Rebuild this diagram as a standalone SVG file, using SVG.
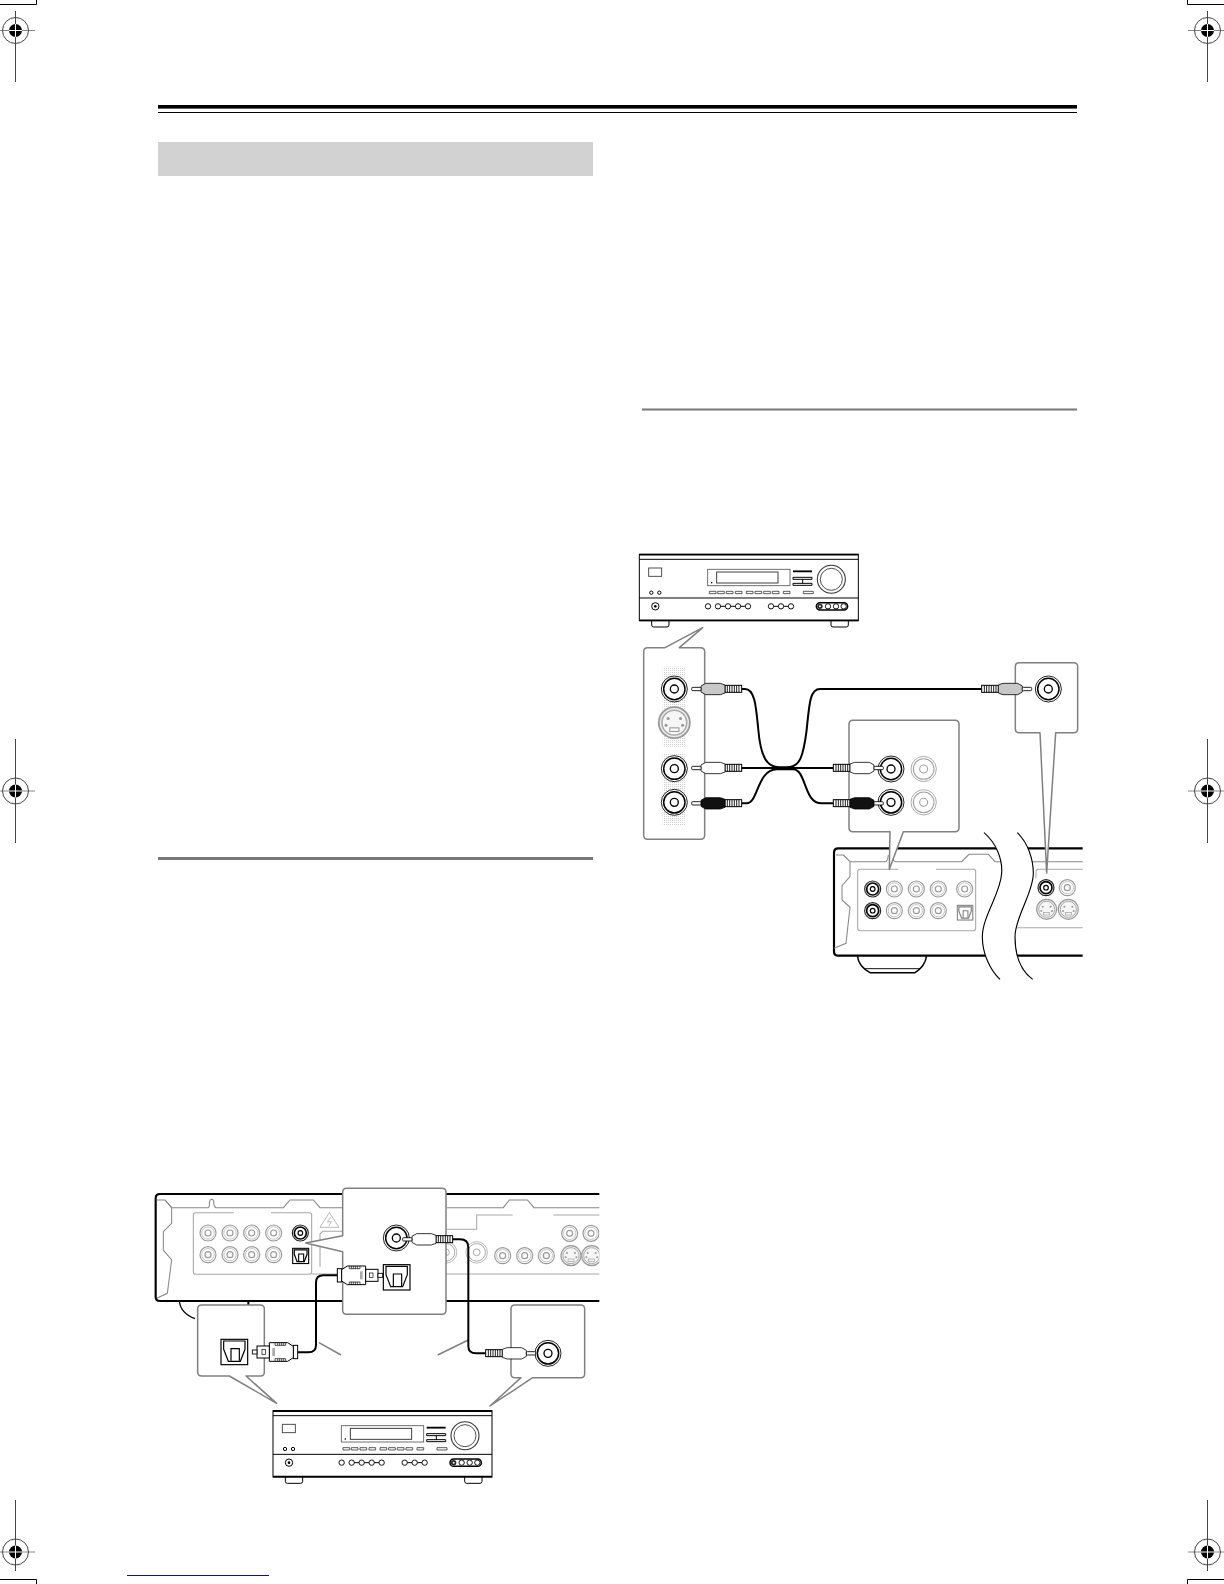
<svg xmlns="http://www.w3.org/2000/svg" width="1224" height="1584" viewBox="0 0 1224 1584">
<style>
.k{fill:none;stroke:#000;stroke-width:6.500;stroke-linejoin:round;stroke-linecap:round}
.c{fill:none;stroke:#000;stroke-width:6}
.g{fill:none;stroke:#888;stroke-width:3.200}
.lg{fill:none;stroke:#a8a8a8;stroke-width:3.200}
.call{fill:#fff;stroke:#808080;stroke-width:4.500;stroke-linejoin:round}
.lead{fill:none;stroke:#808080;stroke-width:4.500}
.rl{fill:none;stroke:#000;stroke-width:3}
.rt{fill:none;stroke:#000;stroke-width:5.500}
.ch{stroke:#444;stroke-width:1}
.chl{stroke:#888;stroke-width:1}
</style>
<defs>
<g id="reg">
<circle r="13" fill="none" stroke="#444" stroke-width="1"/>
<circle r="6.500" fill="#000"/>
<path d="M-6.500 0H6.500M0 -6.500V6.500" stroke="#fff" stroke-width="1"/>
</g>
<g id="jg">
<circle r="24" fill="#fff" stroke="#999" stroke-width="3.500"/>
<circle r="18.500" fill="none" stroke="#bbb" stroke-width="2.500"/>
<circle r="9" fill="none" stroke="#999" stroke-width="3.500"/>
</g>
<g id="jk">
<circle r="24" fill="#fff" stroke="#222" stroke-width="3.500"/>
<circle r="18" fill="none" stroke="#000" stroke-width="5"/>
<circle r="7" fill="none" stroke="#000" stroke-width="3.500"/>
</g>
<g id="jb">
<circle r="39" fill="#fff" stroke="#000" stroke-width="2.600"/>
<circle r="32" fill="none" stroke="#000" stroke-width="4.500"/>
<circle r="12" fill="#fff" stroke="#000" stroke-width="4"/>
</g>
<g id="jl">
<circle r="38" fill="#fff" stroke="#a0a0a0" stroke-width="2.600"/>
<circle r="31" fill="none" stroke="#a0a0a0" stroke-width="3.200"/>
<circle r="12" fill="none" stroke="#a0a0a0" stroke-width="3.200"/>
</g>
<g id="sv">
<circle r="30" fill="#eee" stroke="#999" stroke-width="3.500"/>
<circle r="24" fill="#f6f6f6" stroke="#aaa" stroke-width="3"/>
<circle cx="-12" cy="-8" r="3" fill="#999"/><circle cx="12" cy="-8" r="3" fill="#999"/>
<circle cx="-16" cy="5" r="3" fill="#999"/><circle cx="16" cy="5" r="3" fill="#999"/>
<rect x="-9" y="10" width="18" height="7" fill="none" stroke="#999" stroke-width="2"/>
</g>
<g id="opt">
<rect width="80" height="76" fill="#fff" stroke="#000" stroke-width="3.500"/>
<path d="M8 5H72V30L58 66H22L8 30Z" fill="none" stroke="#000" stroke-width="3.500"/>
<path d="M30 64V28H55V64" fill="none" stroke="#000" stroke-width="3.500"/>
</g>
<g id="opts">
<rect width="80" height="76" fill="#fff" stroke="#000" stroke-width="5.500"/>
<path d="M8 8H72V30L58 66H22L8 30Z" fill="none" stroke="#000" stroke-width="6"/>
<path d="M30 64V28H55V64" fill="none" stroke="#000" stroke-width="5.500"/>
</g>
<g id="rib">
<rect x="0" y="-11" width="50" height="21" fill="#fff" stroke="#000" stroke-width="3"/>
<path d="M8 -11V10M15 -11V10M22 -11V10M29 -11V10M36 -11V10M43 -11V10" stroke="#000" stroke-width="2.600"/>
</g>
<g id="plug">
<use href="#rib"/>
<path d="M50 -12L64 -17H108L122 -9V9L108 17H64L50 12Z" stroke="#000" stroke-width="2.400"/>
<rect x="122" y="-5" width="28" height="10" rx="3" fill="#fff" stroke="#000" stroke-width="2.600"/>
</g>
<g id="oplug">
<rect x="0" y="-20" width="13" height="40" fill="#fff" stroke="#000" stroke-width="3"/>
<path d="M13 -17L30 -28H85V28H30L13 17Z" fill="#fff" stroke="#000" stroke-width="3"/>
<path d="M36 -28V-20H68V-28M36 28V20H68V28M42 -28V-20M48 -28V-20M54 -28V-20M60 -28V-20M42 28V20M48 28V20M54 28V20M60 28V20" fill="none" stroke="#000" stroke-width="2"/>
<rect x="68" y="-12" width="8" height="24" fill="#aaa"/>
<rect x="85" y="-18" width="37" height="36" fill="#fff" stroke="#000" stroke-width="3"/>
<rect x="97" y="-7" width="10" height="14" fill="#fff" stroke="#000" stroke-width="2"/>
<rect x="122" y="-6" width="14" height="12" fill="#fff" stroke="#000" stroke-width="2.600"/>
</g>
<g id="recv">
<path d="M37 199V212Q37 218 43 218H83Q89 218 89 212V199M575 199V212Q575 218 581 218H621Q627 218 627 212V199" class="rl"/>
<rect x="0" y="0" width="657" height="199" fill="#fff" stroke="#000" stroke-width="3"/>
<path d="M0 1H657M0 198H657" class="rt"/>
<path d="M0 15H657M0 131H657" class="rl"/>
<rect x="205" y="45" width="247" height="49" fill="none" stroke="#666" stroke-width="2.800"/>
<rect x="232" y="53" width="184" height="33" fill="none" stroke="#333" stroke-width="2.800"/>
<rect x="215" y="83" width="4" height="4"/>
<rect x="28" y="41" width="39" height="25" fill="none" stroke="#444" stroke-width="2.800"/>
<circle cx="36" cy="115" r="5" class="rl"/><circle cx="60" cy="115" r="5" class="rl"/>
<circle cx="576" cy="75" r="42" fill="none" stroke="#333" stroke-width="3.200"/>
<circle cx="576" cy="75" r="33" fill="none" stroke="#333" stroke-width="2.600"/>
<path d="M461 51H518" class="rt"/>
<path d="M461 69H518V75H461ZM461 87H518V93H461ZM490 75V87" class="rl"/>
<path d="M210 111h20v7h-20zM235 111h20v7h-20zM261 111h20v7h-20zM288 111h20v7h-20zM321 111h20v7h-20zM347 111h20v7h-20zM373 111h20v7h-20zM399 111h20v7h-20zM432 111h20v7h-20zM492 111h30v7h-30z" fill="none" stroke="#333" stroke-width="2.400"/>
<path d="M236 156H326M395 156H455" class="rl"/>
<circle cx="48" cy="156" r="11" class="rl"/><circle cx="48" cy="156" r="4"/>
<g fill="#fff" stroke="#000" stroke-width="2.800">
<circle cx="206" cy="156" r="8"/><circle cx="236" cy="156" r="8"/><circle cx="266" cy="156" r="8"/><circle cx="296" cy="156" r="8"/><circle cx="326" cy="156" r="8"/>
<circle cx="395" cy="156" r="8"/><circle cx="425" cy="156" r="8"/><circle cx="455" cy="156" r="8"/>
<rect x="531" y="145" width="94" height="22" rx="11" stroke-width="4.500"/>
<circle cx="566" cy="156" r="8"/><circle cx="590" cy="156" r="8"/><circle cx="613" cy="156" r="8"/>
</g>
<circle cx="542" cy="156" r="8" fill="#222"/><circle cx="542" cy="156" r="3" fill="#fff"/>
</g>
<clipPath id="clipA"><rect x="0" y="0" width="1378" height="500"/></clipPath>
<clipPath id="clipC"><rect x="0" y="0" width="788" height="500"/></clipPath>
<pattern id="dots" width="6" height="6" patternUnits="userSpaceOnUse"><rect width="3" height="3" fill="#d0d0d0"/></pattern>
</defs>

<g id="page-marks">
<path d="M0 4.500H36.500V0M1224 4.500H1187.500V0M0 1579.500H36.500V1584M1224 1579.500H1187.500V1584" fill="none" stroke="#000" stroke-width="1"/>
<g id="reg-tl"><path class="ch" d="M15.500 11V82"/><path class="chl" d="M0 30.500H35"/><use href="#reg" x="15.500" y="30.500"/></g>
<g id="reg-tr"><path class="ch" d="M1207.500 11V82"/><path class="chl" d="M1188 30.500H1224"/><use href="#reg" x="1207.500" y="30.500"/></g>
<g id="reg-ml"><path class="ch" d="M15.500 739V843"/><path class="chl" d="M0 791H35"/><use href="#reg" x="15.500" y="791"/></g>
<g id="reg-mr"><path class="ch" d="M1207.500 739V843"/><path class="chl" d="M1188 791H1224"/><use href="#reg" x="1207.500" y="791"/></g>
<g id="reg-bl"><path class="ch" d="M15.500 1500V1571"/><path class="chl" d="M0 1552H35"/><use href="#reg" x="15.500" y="1552"/></g>
<g id="reg-br"><path class="ch" d="M1207.500 1500V1571"/><path class="chl" d="M1188 1552H1224"/><use href="#reg" x="1207.500" y="1552"/></g>
<rect x="127" y="1575" width="142" height="1" fill="#14147a"/>
</g>

<g id="page-rules">
<rect x="158" y="105" width="919" height="3.600"/>
<rect x="158" y="112" width="919" height="1"/>
<rect x="158" y="142" width="435" height="34" fill="#d2d2d2"/>
<rect x="158" y="857" width="435" height="3" fill="#777"/>
<rect x="642" y="408.500" width="435" height="2" fill="#777"/>
</g>

<g id="digital-diagram" transform="translate(140 1170) scale(.33333)">
<g id="rear-panel-a" clip-path="url(#clipA)">
<path d="M118 393Q122 430 165 446" class="c" style="stroke-width:4"/>
<path d="M325 393V408" class="c"/>
<path d="M1400 72H60Q47 72 47 85V380Q47 393 60 393H1400" class="k"/>
<path d="M50 90H75L95 113V160L70 185V240L95 270L82 370L50 385" class="g"/>
<path d="M75 90L95 113H205Q210 110 208 100Q210 88 215 88Q224 90 221 100Q222 110 228 113H430L450 90H520L540 113H608M920 113H1090L1108 90H1162L1182 113H1400" class="g"/>
<path d="M920 178H1010V135H1118M1240 135H1400M540 290V192L548 184H608M515 312H1400" class="lg"/>
<path d="M282 128H167Q160 128 160 135V306Q160 313 167 313H508Q515 313 515 306V135Q515 128 508 128H393" class="lg"/>
<path d="M540 172L568 128L597 172ZM572 142L562 156L574 155L566 168" class="lg" style="stroke-width:2.400"/>
<use href="#jg" x="204" y="189"/><use href="#jg" x="270" y="189"/><use href="#jg" x="335" y="189"/><use href="#jg" x="401" y="189"/>
<use href="#jg" x="204" y="254"/><use href="#jg" x="270" y="254"/><use href="#jg" x="335" y="254"/><use href="#jg" x="401" y="254"/>
<use href="#jk" x="481" y="189"/>
<use href="#opts" transform="translate(458 235) scale(.6)"/>
<use href="#jl" transform="translate(918 247) scale(.85)"/><use href="#jl" transform="translate(1010 247) scale(.85)"/>
<use href="#jg" x="1088" y="257"/><use href="#jg" x="1154" y="257"/><use href="#jg" x="1219" y="257"/>
<use href="#jg" x="1289" y="190"/><use href="#jg" x="1353" y="190"/>
<use href="#sv" x="1293" y="257"/><use href="#sv" x="1355" y="257"/>
</g>
<path id="callout-center" class="call" d="M620 55H906Q918 55 918 67V421Q918 433 906 433H620Q608 433 608 421V245L497 219L608 197V67Q608 55 620 55Z"/>
<path id="callout-opt" class="call" d="M185 405H361Q373 405 373 417V606Q373 618 361 618H318L410 700L268 618H185Q173 618 173 606V417Q173 405 185 405Z"/>
<path id="callout-coax" class="call" d="M1125 405H1322Q1334 405 1334 417V611Q1334 623 1322 623H1178L1050 708L1143 623H1125Q1113 623 1113 611V417Q1113 405 1125 405Z"/>
<g id="connectors-a">
<path class="lead" d="M537 518L603 555M985 510L893 555"/>
<path class="c" d="M473 547H505Q528 547 528 525V338Q528 316 550 316H592"/>
<path class="c" d="M938 208H960Q985 208 985 232V528Q985 550 1008 550H1037"/>
</g>
<g id="jack-center-coax"><use href="#jb" x="769" y="204"/></g>
<g id="jack-center-opt"><use href="#opt" x="730" y="284"/></g>
<g id="jack-receiver-opt"><use href="#opt" x="243" y="508"/></g>
<g id="jack-receiver-coax"><use href="#jb" x="1224" y="550"/></g>
<use href="#plug" transform="translate(938 208) scale(-1 1)" fill="#fff"/>
<use href="#plug" transform="translate(1037 550)" fill="#fff"/>
<use href="#oplug" transform="translate(592 316)"/>
<use href="#oplug" transform="translate(473 546) scale(-1 1)"/>
<use id="receiver-a" href="#recv" x="399" y="722"/>
</g>

<g id="rear-panel-c" transform="translate(820 820) scale(.33333)">
<g clip-path="url(#clipC)">
<path d="M112 407Q116 440 150 458H285Q315 440 320 407" class="c" style="stroke-width:4.500"/>
<path d="M132 446H300" class="c" style="stroke-width:2.800"/>
<path d="M800 85H55Q42 85 42 98V395Q42 407 55 407H800" class="k"/>
<path d="M48 105H70L90 125V170L66 197V240L90 262L78 370L42 385M70 105L90 125H198Q205 118 205 105M215 105Q218 120 225 125H425L447 103H505L525 125H800" class="g"/>
<path d="M235 148H120Q113 148 113 155V325Q113 332 120 332H460Q467 332 467 325V155Q467 148 460 148H348M800 148H655Q648 148 648 155V175M590 323H800" class="lg"/>
<use href="#jk" x="158" y="207"/><use href="#jk" x="158" y="272"/>
<use href="#jg" x="223" y="207"/><use href="#jg" x="289" y="207"/><use href="#jg" x="355" y="207"/>
<use href="#jg" x="223" y="272"/><use href="#jg" x="289" y="272"/><use href="#jg" x="355" y="272"/>
<use href="#jg" x="434" y="207"/>
<g transform="translate(412 256) scale(.58)" opacity=".5"><use href="#opts"/></g>
<use href="#jk" x="678" y="203"/><use href="#jg" x="742" y="203"/>
<use href="#sv" x="680" y="268"/><use href="#sv" x="745" y="268"/>
</g>
<path d="M492 38C530 70 548 120 545 160C542 220 487 290 487 350C487 400 510 450 540 478H638C600 450 585 400 585 350C585 290 640 220 640 160C640 120 625 70 592 38Z" fill="#fff"/>
<path d="M492 38C530 70 548 120 545 160C542 220 487 290 487 350C487 400 510 450 540 478M592 38C625 70 640 120 640 160C640 220 585 290 585 350C585 400 600 450 638 478" fill="none" stroke="#000" stroke-width="3.400"/>
</g>

<g id="analog-diagram" transform="translate(630 540) scale(.33333)">
<use id="receiver-b" href="#recv" x="28" y="43"/>
<path id="callout-left" class="call" d="M53 323H105L218 263L148 323H212Q224 323 224 335V886Q224 898 212 898H53Q41 898 41 886V335Q41 323 53 323Z"/>
<path id="callout-right" class="call" d="M1168 368H1331Q1343 368 1343 380V566Q1343 578 1331 578H1277L1250 999L1230 578H1168Q1156 578 1156 566V380Q1156 368 1168 368Z"/>
<path id="callout-mid" class="call" d="M669 541H975Q987 541 987 553V863Q987 875 975 875H820L778 988L780 875H669Q657 875 657 863V553Q657 541 669 541Z"/>
<g id="left-jacks">
<rect x="98" y="380" width="68" height="240" fill="url(#dots)"/>
<rect x="98" y="640" width="68" height="216" fill="url(#dots)"/>
<use href="#jb" x="133" y="447"/>
<use href="#sv" transform="translate(133 548) scale(1.55)"/>
<use href="#jb" x="133" y="686"/>
<use href="#jb" x="133" y="787"/>
</g>
<g id="mid-jacks">
<use href="#jb" x="783" y="687"/><use href="#jb" x="783" y="787"/>
<use href="#jl" x="881" y="687"/><use href="#jl" x="881" y="787"/>
</g>
<g id="right-jack"><use href="#jb" x="1255" y="447"/></g>
<g id="connectors-b">
<path class="c" d="M335 447H345C375 447 378 500 385 570C392 650 410 682 450 682H470C510 682 520 650 530 570C538 490 540 447 570 447H1055"/>
<path class="c" d="M335 684H610"/>
<path class="c" d="M335 790H350C385 790 380 690 440 688H490C530 690 520 790 575 790H610"/>
</g>
<use href="#plug" transform="translate(335 447) scale(-1 1)" fill="#c8c8c8"/>
<use href="#plug" transform="translate(335 684) scale(-1 1)" fill="#fff"/>
<use href="#plug" transform="translate(335 790) scale(-1 1)" fill="#111"/>
<use href="#plug" transform="translate(1055 447)" fill="#c8c8c8"/>
<use href="#plug" transform="translate(610 684)" fill="#fff"/>
<use href="#plug" transform="translate(610 790)" fill="#111"/>
</g>
</svg>
